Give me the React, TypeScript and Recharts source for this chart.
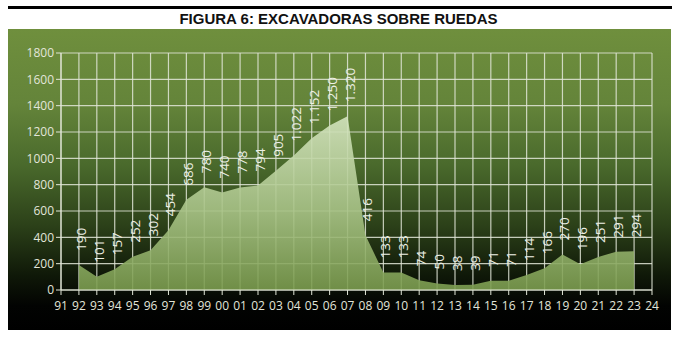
import React from "react";
import { AreaChart, Area, XAxis, YAxis, CartesianGrid, LabelList } from "recharts";

const years = ["92", "93", "94", "95", "96", "97", "98", "99", "00", "01", "02", "03", "04", "05", "06", "07", "08", "09", "10", "11", "12", "13", "14", "15", "16", "17", "18", "19", "20", "21", "22", "23"];
const units = [190, 101, 157, 252, 302, 454, 686, 780, 740, 778, 794, 905, 1022, 1152, 1250, 1320, 416, 133, 133, 74, 50, 38, 39, 71, 71, 114, 166, 270, 196, 251, 291, 294];
const axisYears = ["91", ...years, "24"];
const yTicks = [0, 200, 400, 600, 800, 1000, 1200, 1400, 1600, 1800];

const data = years.map((y, i) => ({ x: i + 1, year: y, value: units[i] }));
const xTicks = axisYears.map((_, i) => i);

const fmt = (v: number) => String(v).replace(/\B(?=(\d{3})+(?!\d))/g, ".");

const font = "'Open Sans', 'DejaVu Sans', sans-serif";

function RotLabel(props: any) {
  const { x, y, value } = props;
  return (
    <text
      x={0}
      y={0}
      transform={`translate(${x + 7},${y - 14}) rotate(-90)`}
      textAnchor="start"
      fill="#eef0e6"
      fontSize={13.5}
      fontFamily={font}
    >
      {fmt(value)}
    </text>
  );
}

export default function App() {
  return (
    <div style={{ position: "absolute", left: 0, top: 0, width: 677, height: 337, background: "#fff" }}>
      <div style={{ position: "absolute", left: 8, top: 6, width: 664, height: 3, background: "#000" }} />
      <div
        style={{
          position: "absolute",
          left: 0,
          top: 10,
          width: 677,
          textAlign: "center",
          fontFamily: "'Liberation Sans', Arial, sans-serif",
          fontWeight: "bold",
          fontSize: 15,
          color: "#111",
          lineHeight: "18px",
        }}
      >
        FIGURA 6: EXCAVADORAS SOBRE RUEDAS
      </div>
      <div
        style={{
          position: "absolute",
          left: 8,
          top: 29,
          width: 663,
          height: 301,
          background:
            "linear-gradient(to bottom, #6f8f3d 0%, #64843a 25%, #4a6a2c 45%, #2c4119 65%, #0f1808 82%, #020302 92%, #000 100%)",
        }}
      >
        <AreaChart width={663} height={301} data={data} margin={{ top: 24, right: 19, bottom: 0, left: 0 }}>
          <defs>
            <linearGradient id="fillG" x1="0" y1="0" x2="0" y2="1">
              <stop offset="0%" stopColor="#d4e4bf" />
              <stop offset="55%" stopColor="#a8c386" />
              <stop offset="100%" stopColor="#7b9c4e" />
            </linearGradient>
          </defs>
          <CartesianGrid stroke="#e2e6d8" strokeOpacity={0.85} strokeWidth={1.2} />
          <XAxis
            dataKey="x"
            type="number"
            domain={[0, 33]}
            ticks={xTicks}
            interval={0}
            tickFormatter={(v: number) => axisYears[v]}
            height={40}
            stroke="#e2e6d8"
            tickSize={5}
            tickMargin={6}
            tick={{ fill: "#e2e5da", fontSize: 12, fontFamily: font }}
          />
          <YAxis
            type="number"
            domain={[0, 1800]}
            ticks={yTicks}
            interval={0}
            width={53}
            stroke="#e2e6d8"
            tickSize={5}
            tick={{ fill: "#e2e5da", fontSize: 12, fontFamily: font }}
          />
          <Area
            type="linear"
            dataKey="value"
            stroke="none"
            fill="url(#fillG)"
            fillOpacity={0.9}
            isAnimationActive={false}
          >
            <LabelList dataKey="value" content={<RotLabel />} />
          </Area>
        </AreaChart>
      </div>
    </div>
  );
}
